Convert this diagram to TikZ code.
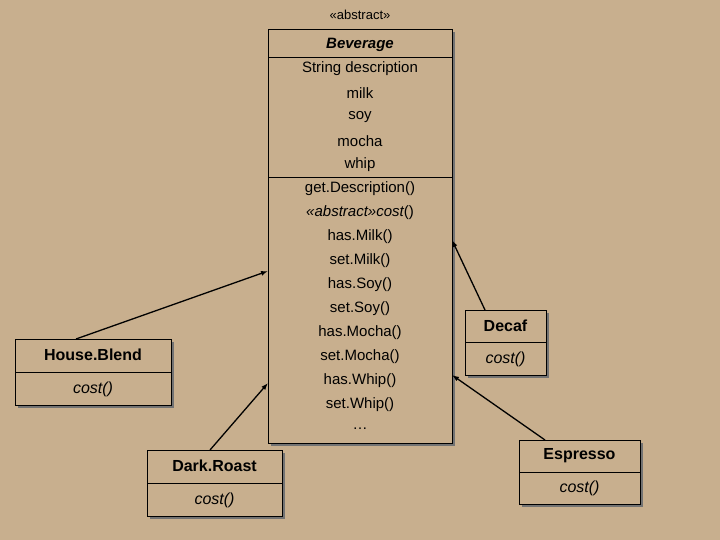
\documentclass[tikz,border=0pt]{standalone}
\usepackage{fontspec}
\setmainfont{Liberation Sans}
\usetikzlibrary{arrows.meta}
\definecolor{bg}{HTML}{C8AF8E}
\begin{document}
\begin{tikzpicture}[x=1pt,y=-1pt,
  box/.style={draw=black,line width=1.2pt},
  shad/.style={fill=black!55,draw=none},
  conn/.style={line width=1.3pt,-{Latex[length=7pt,width=5pt]}},
  txt/.style={font=\fontsize{15}{15}\selectfont,inner sep=0pt}]
\fill[bg] (0,0) rectangle (720,540);
\useasboundingbox (0,0) rectangle (720,540);
% shadows
\foreach \a/\b/\c/\d in {268/29/452/443,15/339/171/405,147/450/282/516,465/310/546/375,519/440/640/504}
  \fill[shad] (\a+3,\b+3) rectangle (\c+3,\d+3);
% Beverage
\node[box,fill=bg,minimum width=184pt,minimum height=414pt,anchor=north west,inner sep=0pt] (bev) at (268,29) {};
\draw[line width=0.8pt] (268,57) -- (452,57);
\draw[line width=0.8pt] (268,177) -- (452,177);
\node[txt,font=\fontsize{13}{13}\selectfont] (ab) at (360,15) {<<abstract>>};
\foreach \t [count=\i from 0] in {{\itshape\bfseries Beverage},String description,milk,soy,mocha,whip,get.Description(),{\itshape<<abstract>>cost}(),has.Milk(),set.Milk(),has.Soy(),set.Soy(),has.Mocha(),set.Mocha(),has.Whip(),set.Whip(),\dots}
  \node[txt] (b\i) at (360,45+24*\i) {\t};
% subclasses
\newcommand\cls[6]{%
  \node[box,fill=bg,minimum width=#4-#2,minimum height=#5-#3,anchor=north west,inner sep=0pt] (#1) at (#2,#3) {};
  \draw[line width=0.8pt] (#2,{(#3+#5)/2}) -- (#4,{(#3+#5)/2});
  \node[txt,font=\fontsize{16}{16}\selectfont\bfseries] (#1n) at ({(#2+#4)/2},{#3+16}) {#6};
  \node[txt,font=\fontsize{16}{16}\selectfont] (#1c) at ({(#2+#4)/2},{#5-16}) {\itshape cost()};}
\cls{hb}{15}{339}{171}{405}{House.Blend}
\cls{dr}{147}{450}{282}{516}{Dark.Roast}
\cls{de}{465}{310}{546}{375}{Decaf}
\cls{es}{519}{440}{640}{504}{Espresso}
\coordinate (p1) at (268,271);
\coordinate (p2) at (268,383);
\coordinate (p3) at (452,240);
\coordinate (p4) at (452,375);
\draw[conn] (hb.north west) ++(61,0) -- (p1);
\draw[conn] (dr.north west) ++(63,0) -- (p2);
\draw[conn] (de.north west) ++(20,0) -- (p3);
\draw[conn] (es.north west) ++(26,0) -- (p4);
\end{tikzpicture}
\end{document}
